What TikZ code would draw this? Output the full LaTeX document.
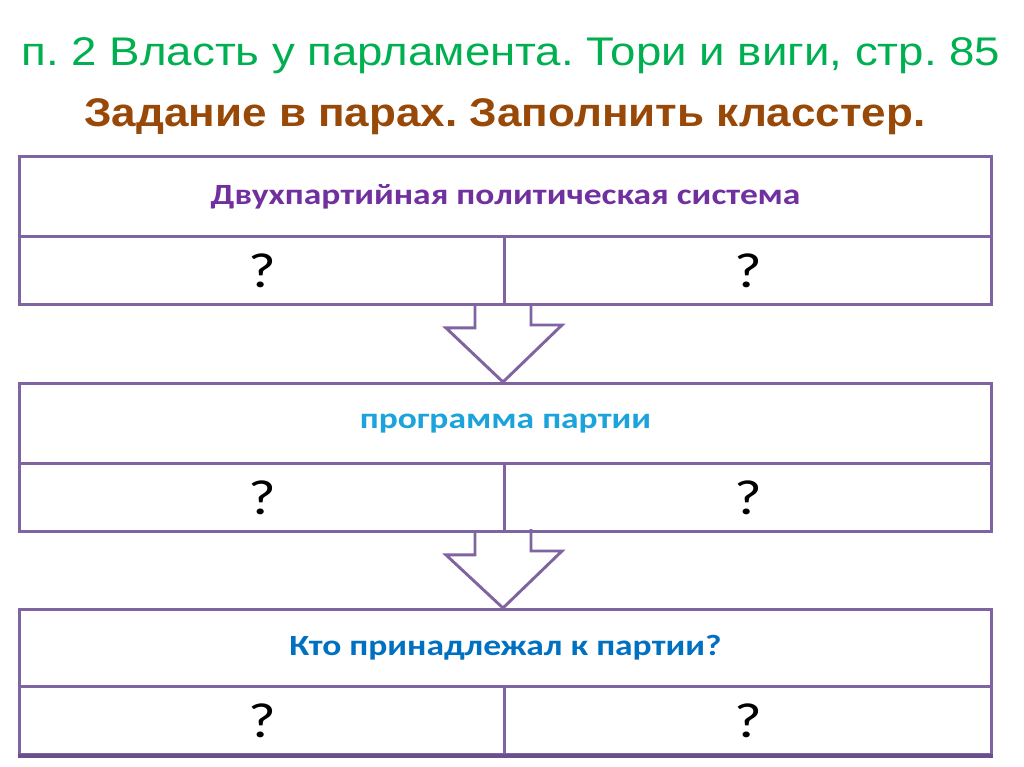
\documentclass[tikz,border=0pt]{standalone}
\usepackage{fontspec}
\setmainfont{Carlito}[FakeStretch=1.21]
\newfontfamily\titlefont[FakeStretch=1.14]{Liberation Sans}
\newfontfamily\subfont[FakeStretch=1.1]{Liberation Sans Bold}
\usetikzlibrary{calc}
\frenchspacing
\definecolor{titlegreen}{HTML}{00B050}
\definecolor{subbrown}{HTML}{984807}
\definecolor{linepurple}{HTML}{8064A2}
\definecolor{linedark}{HTML}{6A4E8E}
\definecolor{txtpurple}{HTML}{7030A0}
\definecolor{txtcyan}{HTML}{1CA3DC}
\definecolor{txtblue}{HTML}{0070C0}
\tikzset{
  cell/.style={draw=linepurple, line width=2.2pt, anchor=north west, inner sep=0pt, align=center},
  head/.style={cell, minimum width=729pt, minimum height=60pt, font=\bfseries\fontsize{22}{26}\selectfont},
  qcell/.style={cell, minimum height=51pt, font=\fontsize{37}{40}\selectfont},
  bigarrow/.style={draw=linepurple, line width=2.2pt, line join=miter}
}
\begin{document}
\begin{tikzpicture}[x=0.75pt,y=-0.75pt]
\useasboundingbox (0,0) rectangle (1024,767);
\fill[white] (0,0) rectangle (1024,767);
\node[anchor=base, inner sep=0pt, text=titlegreen, font=\titlefont\fontsize{30}{34}\selectfont] (title) at (511,66) {п. 2 Власть у парламента. Тори и виги, стр. 85};
\node[anchor=base, inner sep=0pt, text=subbrown, font=\subfont\fontsize{30}{34}\selectfont] (sub) at (505,127) {Задание в парах. Заполнить класстер.};
% block 1
\node[head, text=txtpurple] (h1) at (18,155) {Двухпартийная политическая система};
\node[qcell, minimum width=363.75pt] (l1) at (18,235) {?};
\node[qcell, minimum width=365.25pt] (r1) at (503,235) {?};
% block 2
\node[head, text=txtcyan] (h2) at (18,382) {программа партии};
\node[qcell, minimum width=363.75pt] (l2) at (18,462) {?};
\node[qcell, minimum width=365.25pt] (r2) at (503,462) {?};
% block 3
\node[head, minimum height=57.75pt, text=txtblue] (h3) at (18,608) {Кто принадлежал к партии?};
\node[qcell, minimum width=363.75pt] (l3) at (18,685) {?};
\node[qcell, minimum width=365.25pt] (r3) at (503,685) {?};
\draw[linedark, line width=3.5pt] (l3.south west) -- (r3.south east);
% arrows
\foreach \a/\b in {r1/h2, r2/h3}{
  \draw[bigarrow] ($(\a.south west)+(-28,0)$) -- ++(0,22) -- ++(-29,0)
    -- (\a.south west |- \b.north) -- ++(59,-57) -- ++(-31,0) -- ++(0,-22);
}
\end{tikzpicture}
\end{document}
